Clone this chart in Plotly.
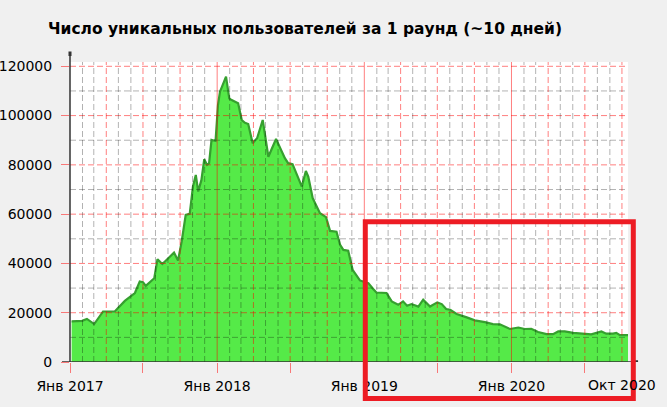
import plotly.graph_objects as go
import pandas as pd

title_text = "Число уникальных пользователей за 1 раунд (~10 дней)"

dates = [
    "2017-01-05", "2017-01-31", "2017-02-12", "2017-03-02", "2017-03-24", "2017-04-22",
    "2017-05-17", "2017-06-11", "2017-06-23", "2017-07-01", "2017-07-08", "2017-07-29",
    "2017-08-06", "2017-08-18", "2017-08-29", "2017-09-16", "2017-09-26", "2017-10-05",
    "2017-10-15", "2017-10-25", "2017-11-02", "2017-11-09", "2017-11-15", "2017-11-23",
    "2017-11-30", "2017-12-07", "2017-12-12", "2017-12-18", "2017-12-28", "2018-01-03",
    "2018-01-08", "2018-01-23", "2018-01-31", "2018-02-06", "2018-02-22", "2018-03-03",
    "2018-03-11", "2018-03-19", "2018-03-30", "2018-04-10", "2018-04-24", "2018-05-08",
    "2018-05-27", "2018-06-18", "2018-06-26", "2018-07-07", "2018-07-30", "2018-08-09",
    "2018-08-15", "2018-08-26", "2018-09-13", "2018-09-28", "2018-10-08", "2018-10-24",
    "2018-11-02", "2018-11-10", "2018-11-22", "2018-12-03", "2018-12-21", "2019-01-11",
    "2019-01-23", "2019-01-31", "2019-02-25", "2019-03-10", "2019-03-26", "2019-04-07",
    "2019-04-17", "2019-04-28", "2019-05-15", "2019-05-27", "2019-06-13", "2019-07-01",
    "2019-07-12", "2019-07-23", "2019-08-02", "2019-08-18", "2019-09-12", "2019-10-02",
    "2019-10-27", "2019-11-16", "2019-12-03", "2019-12-28", "2020-01-18", "2020-02-03",
    "2020-02-19", "2020-03-07", "2020-03-28", "2020-04-13", "2020-04-26", "2020-05-12",
    "2020-06-02", "2020-06-27", "2020-07-17", "2020-08-11", "2020-08-23", "2020-09-09",
    "2020-09-17", "2020-09-26", "2020-10-16",
]
users = [
    16500, 16700, 17500, 15400, 20500, 20500,
    24800, 28000, 32700, 32400, 30900, 34000,
    41700, 39800, 41500, 44400, 41200, 48900,
    59700, 60100, 71200, 75900, 69200, 73900,
    82300, 80000, 80700, 90100, 89700, 104300,
    109700, 115800, 107000, 106300, 105000, 98200,
    97100, 96600, 88800, 90800, 98200, 83300,
    90500, 82700, 80700, 80300, 71200, 77500,
    75200, 66500, 60400, 58800, 53200, 52900,
    47500, 45500, 45200, 37400, 33100, 32000,
    29600, 28200, 28000, 24600, 23200, 24600,
    22800, 23500, 22500, 25300, 22500, 24200,
    23500, 21500, 21200, 19500, 18100, 16900,
    16200, 15400, 15300, 13400, 14000, 13400,
    13500, 12200, 11300, 11300, 12400, 12400,
    11800, 11300, 11200, 12400, 11500, 11500,
    11800, 10900, 10900,
]

x_range = ["2017-01-01", "2020-10-16"]
y_range = [0, 121750]

x_tick_vals = ["2017-01-01", "2017-07-01", "2018-01-01", "2018-07-01",
               "2019-01-01", "2019-07-01", "2020-01-01", "2020-07-01"]
x_tick_text = ["Янв 2017", "", "Янв 2018", "", "Янв 2019", "", "Янв 2020", ""]
extra_label_date = "2020-10-01"
extra_label_text = "Окт 2020"

y_tick_vals = [0, 20000, 40000, 60000, 80000, 100000, 120000]
y_tick_text = ["0", "20000", "40000", "60000", "80000", "100000", "120000"]
y_minor_vals = [10000, 30000, 50000, 70000, 90000, 110000]

grid_months = pd.date_range("2017-02-01", "2020-10-01", freq="MS")

RED_GRID = "rgba(255,0,0,0.5)"
GRAY_GRID = "rgba(0,0,0,0.3)"
FONT = "DejaVu Sans"

fig = go.Figure(go.Scatter(
    x=dates, y=users, mode="lines", fill="tozeroy",
    fillcolor="#55ea48", line=dict(color="#36a02f", width=2.2),
    hoverinfo="x+y",
))

shapes = []
for v in y_tick_vals[1:]:
    shapes.append(dict(type="line", xref="paper", yref="y", x0=0, x1=1, y0=v, y1=v,
                       line=dict(color=RED_GRID, width=1, dash="6px,3px"), layer="above"))
for v in y_minor_vals:
    shapes.append(dict(type="line", xref="paper", yref="y", x0=0, x1=1, y0=v, y1=v,
                       line=dict(color=GRAY_GRID, width=1, dash="6px,3px"), layer="above"))
for d in grid_months:
    if d.month == 1:
        ln = dict(color=RED_GRID, width=1)
    elif d.month in (4, 7, 10):
        ln = dict(color=RED_GRID, width=1, dash="6px,3px")
    else:
        ln = dict(color=GRAY_GRID, width=1, dash="6px,3px")
    shapes.append(dict(type="line", xref="x", yref="paper", x0=d, x1=d, y0=0, y1=1,
                       line=ln, layer="above"))

# axis lines
shapes.append(dict(type="line", xref="paper", yref="y", x0=-0.0143, x1=1.018, y0=0, y1=0,
                   line=dict(color="#333333", width=1.5), layer="above"))
shapes.append(dict(type="line", xref="paper", yref="paper", x0=0, x1=0, y0=0, y1=1.033,
                   line=dict(color="#333333", width=1.5), layer="above"))
shapes.append(dict(type="line", xref="paper", yref="y", x0=1.011, x1=1.018, y0=0, y1=0,
                   line=dict(color="#333333", width=3.5), layer="above"))
shapes.append(dict(type="line", xref="paper", yref="paper", x0=0, x1=0, y0=1.02, y1=1.035,
                   line=dict(color="#333333", width=3), layer="above"))

# red highlight box
shapes.append(dict(type="rect", xref="paper", yref="paper",
                   x0=0.5292, x1=1.0095, y0=-0.1217, y1=0.4677,
                   line=dict(color="#ed1c24", width=5), fillcolor="rgba(0,0,0,0)",
                   layer="above"))

fig.update_layout(
    width=667, height=407,
    margin=dict(l=70, r=39, t=62, b=45),
    paper_bgcolor="#f0f0f0", plot_bgcolor="#ffffff",
    showlegend=False,
    font=dict(family=FONT, size=14, color="#000000"),
    shapes=shapes,
    annotations=[
        dict(text=f"<b>{title_text}</b>", xref="paper", yref="paper",
             x=(46 - 70) / 558, y=(362 - 29) / 300, xanchor="left", yanchor="middle",
             showarrow=False, font=dict(family=FONT, size=15.5, color="#000000")),
        dict(text=extra_label_text, xref="x", yref="paper", x=extra_label_date,
             y=-(385 - 362) / 300, xanchor="center", yanchor="middle",
             showarrow=False, font=dict(family=FONT, size=14, color="#000000")),
    ],
    xaxis=dict(
        type="date", range=x_range, tickvals=x_tick_vals, ticktext=x_tick_text,
        ticks="outside", ticklen=10, tickcolor=RED_GRID, tickwidth=1,
        showgrid=False, zeroline=False, showline=False, automargin=False,
        tickfont=dict(family=FONT, size=14, color="#000000"),
        ticklabelstandoff=1,
    ),
    yaxis=dict(
        range=y_range, tickvals=y_tick_vals, ticktext=y_tick_text,
        ticks="outside", ticklen=8, tickcolor=RED_GRID, tickwidth=1,
        showgrid=False, zeroline=False, showline=False, automargin=False,
        tickfont=dict(family=FONT, size=14, color="#000000"),
        ticklabelstandoff=6,
    ),
)

fig.write_html("out.html", config={"displayModeBar": False},
               post_script="document.body.style.margin='0';")
